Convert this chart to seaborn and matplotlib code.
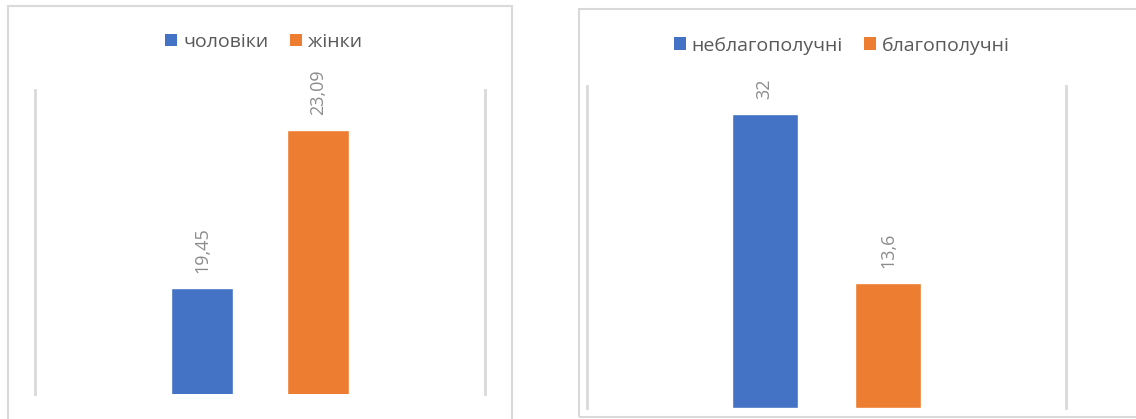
import matplotlib
matplotlib.use("Agg")
import matplotlib.pyplot as plt
import pandas as pd
import seaborn as sns
from matplotlib.patches import Rectangle, Patch

# data
left_series = ["чоловіки", "жінки"]
left_values = [19.45, 23.09]
left_ylim = (17, 24)

right_series = ["неблагополучні", "благополучні"]
right_values = [32, 13.6]
right_ylim = (0, 35)

colors = ["#4472C4", "#ED7D31"]

sns.set_theme(style="white")
plt.rcParams["font.family"] = ["Open Sans", "DejaVu Sans"]

W, H = 1136, 419
fig = plt.figure(figsize=(W / 100, H / 100), dpi=100)

# panel frames (pixel coords from top-left)
for x0, y0, x1, y1 in [(8, 6, 512, 425), (579, 9, 1145, 417)]:
    fig.patches.append(Rectangle((x0 / W, 1 - y1 / H), (x1 - x0) / W, (y1 - y0) / H,
                                 transform=fig.transFigure, fill=False,
                                 edgecolor="#d9d9d9", linewidth=1.5))


def draw_panel(rect, series, values, ylim, legend_pos):
    ax = fig.add_axes(rect)
    df = pd.DataFrame({"cat": [""] * len(series), "series": series, "value": values})
    sns.barplot(data=df, x="cat", y="value", hue="series", palette=colors,
                width=0.516, gap=0.465, saturation=1, legend=False, ax=ax)
    ax.set_xlim(-0.5, 0.5)
    ax.set_ylim(*ylim)
    ax.set_xlabel("")
    ax.set_ylabel("")
    ax.set_xticks([])
    ax.set_yticks([])
    for side in ["top", "bottom"]:
        ax.spines[side].set_visible(False)
    for side in ["left", "right"]:
        ax.spines[side].set_color("#d9d9d9")
        ax.spines[side].set_linewidth(2)
    for bar, val in zip(ax.patches, values):
        ax.annotate(f"{val:g}".replace(".", ","),
                    (bar.get_x() + bar.get_width() / 2, bar.get_y() + bar.get_height()),
                    xytext=(0, 15), textcoords="offset pixels", rotation=90,
                    ha="center", va="bottom", color="#8c8c8c", fontsize=13)
    handles = [Patch(facecolor=c, edgecolor="none") for c in colors]
    ax.legend(handles, series, loc="center", bbox_to_anchor=legend_pos, ncol=2,
              frameon=False, fontsize=14, handlelength=0.62, handleheight=0.62,
              handletextpad=0.3, columnspacing=1.1, labelcolor="#595959")
    return ax


draw_panel([35 / W, 1 - 394 / H, 450 / W, 304 / H], left_series, left_values, left_ylim,
           (0.508, 1 + 48 / 304))
draw_panel([587 / W, 1 - 408 / H, 479 / W, 322 / H], right_series, right_values, right_ylim,
           (0.532, 1 + 40.5 / 322))

fig.savefig("out.png", dpi=100)
